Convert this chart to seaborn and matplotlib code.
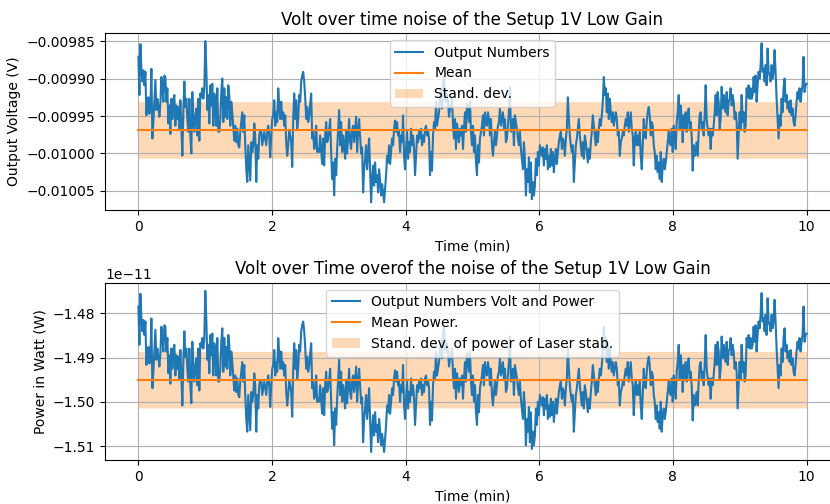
import numpy as np
import matplotlib
matplotlib.use("Agg")
import matplotlib.pyplot as plt
import seaborn as sns

# Detector output over a 10 minute run, in microvolts (one sample per step)
output_uV = [
    -9871, -9922, -9854, -9887, -9904, -9889, -9909, -9891, -9949, -9931,
    -9925, -9947, -9940, -9887, -9980, -9958, -9931, -9902, -9942, -9927,
    -9938, -9951, -9934, -9898, -9913, -9931, -9896, -9898, -9931, -9913,
    -9960, -9936, -9974, -9927, -9954, -9929, -9922, -9963, -9936, -9954,
    -9938, -9967, -9929, -9963, -10003, -9945, -9904, -9938, -9927, -9954,
    -9971, -9927, -9976, -10000, -9918, -9958, -9971, -9949, -9940, -9976,
    -9927, -9983, -9920, -9925, -9913, -9927, -9913, -9850,
    -9887, -9942, -9922, -9960, -9909, -9936, -9907, -9963, -9920, -9931,
    -9963, -9913, -9971, -9971, -9954, -9918, -9900, -9958, -9913, -9951,
    -9925, -9954, -9909, -9922, -9963, -9931, -9945, -9963, -9983, -9963,
    -9985, -9967, -9989, -9992, -9971, -9958, -9945, -9971, -9949, -9989,
    -10021, -10038, -9989, -10012, -10036, -9985, -9998, -9989, -9960, -9976,
    -10038, -9989, -10007, -9976, -9969, -9971, -9989, -9980, -9971, -9980,
    -9989, -9971, -9963, -9976, -10005, -9976, -9954, -9949, -9929, -9963,
    -9945, -9958, -9913, -9936, -9954, -9931, -9954, -9945, -9963, -9949,
    -9985, -10003, -9989, -9969, -9976, -9985, -10018, -9954, -9920, -9954,
    -9929, -9967,
    -9954, -9922, -9931, -9904, -9896, -9891, -9904, -9925, -9954, -9938,
    -9958, -9951, -9934, -9920, -9980, -9971, -9994, -9989, -9963, -9998,
    -9994, -9998, -9976, -9996, -10014, -9980, -10016, -9976, -9958, -9985,
    -9980, -9969, -9954, -9998, -10034, -10012, -10056, -10007, -10029, -9994,
    -9967, -9942, -9989, -9958, -9998, -9976, -9989, -10007, -9969, -10000,
    -9976, -9954, -9985, -9994, -9971, -9963, -9985, -9967, -9951, -9998,
    -9971, -9954, -9976, -10000, -9992, -10052, -10021, -10007, -9989, -10021,
    -10003, -9980, -10023, -10065, -10034, -10016, -10043, -10012, -10038, -10029,
    -10052, -10021, -10036, -10056, -10041, -10052, -10065, -10047, -10029, -10003,
    -10012, -9989, -10014, -9998, -9980, -9989, -9967, -9956, -9971, -9958,
    -9976, -9971, -9998, -9976, -9985, -9949, -10003, -10021, -9994, -9971,
    -10007, -9985, -9998, -9967, -9989, -9976, -9994, -10029, -10003, -9976,
    -9985, -9971, -9980, -9967, -9989, -9976, -9985, -9967, -9963, -9976,
    -9969, -9980, -10029, -9998, -10023, -9976, -9958, -9967, -9931, -9963,
    -9954, -9945, -9927, -9916, -9940, -9909, -9898, -9927, -9931, -9920,
    -9931, -9951, -9940, -9936, -9927, -9963, -9980, -9954, -9994, -9960,
    -9971, -9985, -9967, -9976, -9963, -9994,
    -9967, -9945, -9971, -9934, -9938, -9958, -9931, -9971, -9989, -9963,
    -9998, -9976, -10012, -10029, -9989, -10012, -9980, -9971, -9963, -9949,
    -9976, -9945, -9958, -9963, -9945, -9954, -9976, -9954, -9989, -10003,
    -9985, -9971, -9989, -9976, -9963, -9958, -9940, -9963, -9954, -9945,
    -9967, -9954, -9985, -9980, -9963, -9945, -9911, -9971, -9963, -9954,
    -9989, -9949, -9958, -9967, -9980, -9989, -9971, -9994, -10007, -10021,
    -9985, -10007, -10056, -10021, -10038, -10005, -10052, -10012, -10061, -10038,
    -10056, -10043, -10007, -10029, -9998, -10016, -9989, -9996, -10003, -9992,
    -10016, -9994, -10007, -9989, -10021, -10003, -10018, -9994, -10016, -9998,
    -10025, -10007, -9994, -10014, -9998, -9985, -9976, -9971, -9994, -9980,
    -9985, -10003, -9980, -9967, -9925, -9954, -9976, -9989, -9998, -9989,
    -10038, -10012, -9989, -9980, -9967, -9954, -9976, -9989, -10003, -9985,
    -10007, -9976, -9985, -9998, -10012, -9994, -10007, -9985, -9971, -9949,
    -9963, -9976, -9989, -9971, -9985, -9967, -9954, -9963, -9949, -9931,
    -9898, -9922, -9913, -9945, -9920, -9954, -9927, -9945, -9958, -9945,
    -9963, -9954, -9945, -9954, -9976, -9971, -10003, -9985, -9980, -9971,
    -9976, -9963, -9954, -9963, -9945, -9971,
    -9958, -9945, -9967, -9976, -10016, -9980, -9971, -9989, -9976, -9989,
    -9971, -10003, -10021, -9989, -9954, -9976, -9980, -9958, -9945, -9938,
    -9949, -9976, -9958, -9963, -9989, -9998, -10021, -10003, -10025, -10012,
    -10034, -9998, -10038, -10016, -10007, -10021, -10012, -9998, -9985, -9971,
    -9985, -9989, -9967, -9998, -9963, -9976, -9994, -9958, -9945, -9922,
    -9967, -9936, -9954, -9985, -9949, -9967, -9945, -9971, -9949, -9940,
    -9967, -9958, -9976, -10023, -9989, -10003, -9998, -9985, -10003, -9971,
    -9949, -9945, -9967, -9958, -9976, -9949, -9909, -9954, -9967, -9976,
    -9967, -9994, -9967, -9976, -9963, -9945, -9922, -9949, -9918, -9931,
    -9967, -9954, -9911, -9940, -9922, -9931, -9945, -9918, -9949, -9931,
    -9927, -9913, -9936, -9922, -9931, -9954, -9945, -9958, -10007, -9976,
    -9945, -9967, -9922, -9958, -9945, -9971, -9963, -9913, -9925, -9909,
    -9927, -9913, -9927, -9922, -9898, -9918, -9896, -9931, -9909, -9891,
    -9900, -9882, -9853, -9891, -9887, -9904, -9882, -9909, -9860, -9891,
    -9896, -9904, -9882, -9900, -9891, -9862, -9891, -9927, -9954, -9980,
    -9949, -9963, -9927, -9945, -9913, -9900, -9931, -9922, -9940, -9931,
    -9945, -9929, -9949, -9940, -9958, -9963, -9949, -9931, -9918, -9927,
    -9913, -9931, -9918, -9909, -9871, -9918, -9909, -9907,
]

# Summary statistics of the run, in microvolts
mean_uV = -9968.6
std_uV = 37.7

run_minutes = 10.0
dark_offset_V = -0.001133      # detector reading with the laser blocked
watt_per_volt = 1.692e-9       # calibration of the photodiode chain

voltage = np.asarray(output_uV, dtype=float) * 1e-6
time_min = np.linspace(0.0, run_minutes, len(voltage))
power = (voltage - dark_offset_V) * watt_per_volt

mean_V = mean_uV * 1e-6
std_V = std_uV * 1e-6
mean_W = (mean_V - dark_offset_V) * watt_per_volt
std_W = std_V * watt_per_volt

fig, axes = plt.subplots(2, 1, figsize=(8.3, 5.04), dpi=100)
fig.subplots_adjust(left=0.1265, right=1.012, top=0.9345, bottom=0.0873, hspace=0.409)

panels = [
    (axes[0], voltage, mean_V, std_V,
     "Volt over time noise of the Setup 1V Low Gain", "Output Voltage (V)",
     ("Output Numbers", "Mean", "Stand. dev.")),
    (axes[1], power, mean_W, std_W,
     "Volt over Time overof the noise of the Setup 1V Low Gain", "Power in Watt (W)",
     ("Output Numbers Volt and Power", "Mean Power.", "Stand. dev. of power of Laser stab.")),
]

for ax, series, mean, std, title, ylabel, labels in panels:
    sns.lineplot(x=time_min, y=series, ax=ax, color="C0", linewidth=1.5,
                 label=labels[0], sort=False)
    ax.plot(time_min, np.full_like(series, mean), color="C1", linewidth=1.5,
            label=labels[1])
    ax.fill_between(time_min, mean - std, mean + std, color="C1", alpha=0.3,
                    linewidth=0, label=labels[2])
    ax.set_title(title, fontsize=12)
    ax.set_xlabel("Time (min)")
    ax.set_ylabel(ylabel)
    ax.grid(True)
    ax.legend(loc="upper center")

fig.savefig("out.png", dpi=100)
